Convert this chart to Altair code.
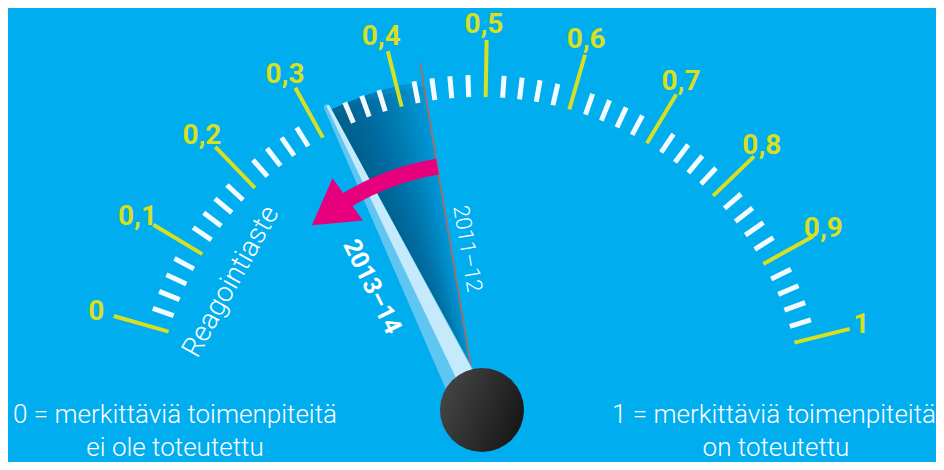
import math
import altair as alt
import pandas as pd

# ---------------- data ----------------
tick_values = [0.0, 0.1, 0.2, 0.3, 0.4, 0.5, 0.6, 0.7, 0.8, 0.9, 1.0]
tick_labels = ["0", "0,1", "0,2", "0,3", "0,4", "0,5", "0,6", "0,7", "0,8", "0,9", "1"]
minor_per_major = 4
series_names = ["2013–14", "2011–12"]
series_values = [0.32, 0.43]
gauge_title = "Reagointiaste"
left_note = ["0 = merkittäviä toimenpiteitä", "ei ole toteutettu"]
right_note = ["1 = merkittäviä toimenpiteitä", "on toteutettu"]

# ---------------- style / geometry ----------------
BG = "#00adef"
YELLOW = "#d7df23"
MAGENTA = "#e6007e"
FONT = "Roboto, sans-serif"
A0, SWEEP = 164.0, 150.0          # angle of value 0 (deg, ccw from +x) and total sweep
R_IN, R_MINOR, R_MAJOR, R_LABEL = 324, 346, 381, 396
W, H = 928, 454
xs = alt.Scale(domain=[-472, 456], nice=False, zero=False)
ys = alt.Scale(domain=[-41, 413], nice=False, zero=False)


def ang(v):
    return math.radians(A0 - SWEEP * v)


def pol(v, r):
    a = ang(v)
    return r * math.cos(a), r * math.sin(a)


def theta_of(v):
    t = math.pi / 2 - ang(v)
    while t < 0:
        t += 2 * math.pi
    return t


X = lambda f="x": alt.X(f"{f}:Q", scale=xs, axis=None)
Y = lambda f="y": alt.Y(f"{f}:Q", scale=ys, axis=None)

# ticks
n_steps = (len(tick_values) - 1) * (minor_per_major + 1)
maj_rows, min_rows = [], []
for i in range(n_steps + 1):
    v = i / n_steps
    major = i % (minor_per_major + 1) == 0
    x1, y1 = pol(v, R_IN)
    x2, y2 = pol(v, R_MAJOR if major else R_MINOR)
    (maj_rows if major else min_rows).append(dict(x=x1, y=y1, x2=x2, y2=y2))
df_maj = pd.DataFrame(maj_rows)
df_min = pd.DataFrame(min_rows)

df_lab = pd.DataFrame([
    dict(label=l, x=pol(v, R_LABEL)[0] - 3, y=pol(v, R_LABEL)[1])
    for v, l in zip(tick_values, tick_labels)
])

v_now, v_prev = series_values

# shadow between the two needle positions (angular fade)
sh_rows = [dict(cx=0, cy=0, t1=theta_of(v_now), t2=theta_of(v_prev), r1=340, r2=18, o=0.14)]
N = 36
for k in range(1, N + 1):
    vv = v_now + (v_prev - v_now) * k / N
    sh_rows.append(dict(cx=0, cy=0, t1=theta_of(v_now), t2=theta_of(vv), r1=345, r2=18, o=0.028))
df_sh = pd.DataFrame(sh_rows)

# 2011-12 line
px0, py0 = pol(v_prev, 40)
px1, py1 = pol(v_prev, 363)
df_prev = pd.DataFrame([dict(x=px0, y=py0, x2=px1, y2=py1)])

# 2013-14 needle (tapered trails)
a = ang(v_now)
perp = (math.sin(a), -math.cos(a))   # viewer's right of needle
rows1, rows2 = [], []
for j, (r, w1, off, w2) in enumerate([(15, 36, 7, 20), (349, 6, 1.5, 3)]):
    x, y = pol(v_now, r)
    rows1.append(dict(i=j, x=x, y=y, w=w1))
    rows2.append(dict(i=j, x=x + perp[0] * off, y=y + perp[1] * off, w=w2))
df_n1 = pd.DataFrame(rows1)
df_n2 = pd.DataFrame(rows2)

# magenta arrow: from previous value towards the new value
arrow_r = 258
v_head_base = 0.287
v_head_tip = 0.223
df_arrow = pd.DataFrame([dict(cx=0, cy=0, t1=theta_of(v_head_base - 0.004), t2=theta_of(v_prev),
                              r1=arrow_r + 8, r2=arrow_r - 8)])
bx, by = pol(v_head_base, arrow_r)
tx, ty = pol(v_head_tip, arrow_r)
head_angle = math.degrees(math.atan2(-(ty - by), tx - bx)) % 360
df_head = pd.DataFrame([dict(x=(bx + tx) / 2, y=(by + ty) / 2)])

# hub
df_hub = pd.DataFrame([dict(x=2, y=11)])

# annotation texts
def along(v, r, off):
    x, y = pol(v, r)
    aa = ang(v)
    return x + math.sin(aa) * off, y - math.cos(aa) * off

t_now = along(v_now, 168, -38)
t_prev = along(v_prev, 172, 16)
t_title = pol(0.088, 285)
ang_now = math.degrees(math.atan2(math.sin(ang(v_now)), -math.cos(ang(v_now)))) % 360
ang_prev = math.degrees(math.atan2(math.sin(ang(v_prev)), -math.cos(ang(v_prev)))) % 360
ang_title = (-(A0 - SWEEP * 0.088 - 90)) % 360

df_t_now = pd.DataFrame([dict(x=t_now[0], y=t_now[1], t=series_names[0])])
df_t_prev = pd.DataFrame([dict(x=t_prev[0], y=t_prev[1], t=series_names[1])])
df_t_title = pd.DataFrame([dict(x=t_title[0], y=t_title[1], t=gauge_title)])
df_notes = pd.DataFrame([
    dict(x=-305, y=6, t=left_note[0]), dict(x=-305, y=-27, t=left_note[1]),
    dict(x=294, y=6, t=right_note[0]), dict(x=296, y=-27, t=right_note[1]),
])

# ---------------- layers ----------------
shadow = alt.Chart(df_sh).mark_arc(color="#003a66").encode(
    x=X("cx"), y=Y("cy"),
    theta=alt.Theta("t1:Q", scale=None), theta2="t2:Q",
    radius=alt.Radius("r1:Q", scale=None), radius2="r2:Q",
    opacity=alt.Opacity("o:Q", scale=None, legend=None))

minor = alt.Chart(df_min).mark_rule(color="white", strokeWidth=5, opacity=0.95).encode(
    x=X(), y=Y(), x2="x2:Q", y2="y2:Q")
major = alt.Chart(df_maj).mark_rule(color=YELLOW, strokeWidth=4).encode(
    x=X(), y=Y(), x2="x2:Q", y2="y2:Q")
labels = alt.Chart(df_lab).mark_text(font=FONT, fontSize=28, fontWeight="bold", color=YELLOW,
                                      align="center", baseline="middle").encode(
    x=X(), y=Y(), text="label:N")

prev_line = alt.Chart(df_prev).mark_rule(color="#b2695c", strokeWidth=1.6).encode(
    x=X(), y=Y(), x2="x2:Q", y2="y2:Q")

needle1 = alt.Chart(df_n1).mark_trail(color="#5fc6f2").encode(
    x=X(), y=Y(), size=alt.Size("w:Q", scale=None, legend=None), order="i:O")
needle2 = alt.Chart(df_n2).mark_trail(color="#c4eafb").encode(
    x=X(), y=Y(), size=alt.Size("w:Q", scale=None, legend=None), order="i:O")

arrow_body = alt.Chart(df_arrow).mark_arc(color=MAGENTA).encode(
    x=X("cx"), y=Y("cy"),
    theta=alt.Theta("t1:Q", scale=None), theta2="t2:Q",
    radius=alt.Radius("r1:Q", scale=None), radius2="r2:Q")
arrow_head = alt.Chart(df_head).mark_point(
    shape="M -0.85 -1 L 0.85 0 L -0.85 1 Z", size=52 * 52, filled=True, fill=MAGENTA,
    opacity=1, strokeWidth=0, angle=head_angle).encode(x=X(), y=Y())

hub = alt.Chart(df_hub).mark_point(
    shape="circle", size=84 * 84, filled=True, opacity=1, strokeWidth=0,
    fill=alt.LinearGradient(gradient="linear",
                            stops=[alt.GradientStop(color="#454545", offset=0),
                                   alt.GradientStop(color="#161616", offset=1)],
                            x1=0, x2=1, y1=0.3, y2=0.7)).encode(x=X(), y=Y())

txt_now = alt.Chart(df_t_now).mark_text(font=FONT, fontSize=25, fontWeight="bold", color="white",
                                         angle=ang_now, align="center", baseline="middle").encode(
    x=X(), y=Y(), text="t:N")
txt_prev = alt.Chart(df_t_prev).mark_text(font=FONT, fontSize=22, fontWeight=300, color="white",
                                           angle=ang_prev, align="center", baseline="middle").encode(
    x=X(), y=Y(), text="t:N")
txt_title = alt.Chart(df_t_title).mark_text(font=FONT, fontSize=28, fontWeight=300, color="white",
                                             angle=ang_title, align="center", baseline="middle").encode(
    x=X(), y=Y(), text="t:N")
notes = alt.Chart(df_notes).mark_text(font=FONT, fontSize=26, fontWeight=300, color="white",
                                       align="center", baseline="middle").encode(
    x=X(), y=Y(), text="t:N")

chart = alt.layer(
    shadow, minor, major, labels, prev_line, needle1, needle2,
    arrow_body, arrow_head, hub, txt_now, txt_prev, txt_title, notes
).properties(
    width=W, height=H, padding=0, background=BG,
    autosize=alt.AutoSizeParams(type="none")
).configure_view(strokeWidth=0)

chart.save("out.html", embed_options={"renderer": "svg", "actions": False})
